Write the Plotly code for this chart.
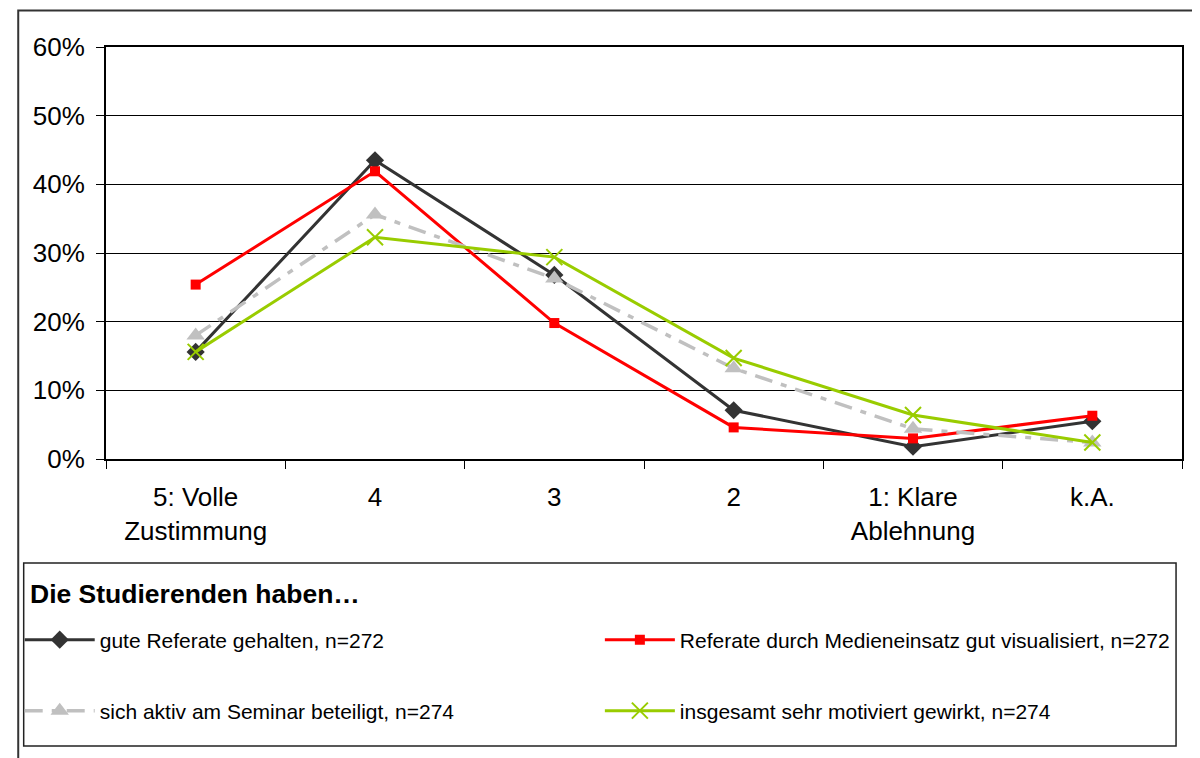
"""Liniendiagramm: Bewertung der Studierenden (Anteile je Antwortkategorie)."""

import plotly.graph_objects as go

# Antwortkategorien (x-Achse)
kategorien = ["5: Volle<br>Zustimmung", "4", "3", "2", "1: Klare<br>Ablehnung", "k.A."]

# Anteile je Item
gute_referate = [0.156, 0.435, 0.268, 0.071, 0.018, 0.055]
medieneinsatz = [0.254, 0.419, 0.198, 0.046, 0.030, 0.063]
aktiv_beteiligt = [0.180, 0.356, 0.263, 0.132, 0.044, 0.024]
motiviert = [0.156, 0.323, 0.294, 0.147, 0.064, 0.024]

namen = [
    "gute Referate gehalten, n=272",
    "Referate durch Medieneinsatz gut visualisiert, n=272",
    "sich aktiv am Seminar beteiligt, n=274",
    "insgesamt sehr motiviert gewirkt, n=274",
]
legenden_titel = "Die Studierenden haben…"

y_ticks = [0, 0.1, 0.2, 0.3, 0.4, 0.5, 0.6]

FONT = "Liberation Sans, Arial, sans-serif"

# Seite hat 8px Rand im Browser -> Vorlagen-Pixel um 8 verschieben
OFF = 8
W, H = 1200 - OFF, 758 - OFF
L, R, T, B = 97 - OFF, 1182 - OFF, 47 - OFF, 459 - OFF


def px_x(x):
    return (x - OFF - L) / (R - L)


def px_y(y):
    return (B - (y - OFF)) / (B - T)


fig = go.Figure()

fig.add_trace(go.Scatter(
    x=kategorien, y=gute_referate, name=namen[0], mode="lines+markers",
    line=dict(color="#333333", width=3),
    marker=dict(symbol="diamond", size=14, color="#333333"),
    legend="legend",
))
fig.add_trace(go.Scatter(
    x=kategorien, y=medieneinsatz, name=namen[1], mode="lines+markers",
    line=dict(color="#FF0000", width=3),
    marker=dict(symbol="square", size=10, color="#FF0000"),
    legend="legend2",
))
fig.add_trace(go.Scatter(
    x=kategorien, y=aktiv_beteiligt, name=namen[2], mode="lines+markers",
    line=dict(color="#C0C0C0", width=3.5, dash="18px,9px,6px,9px"),
    marker=dict(symbol="triangle-up", size=16, color="#C0C0C0"),
    legend="legend3",
))
fig.add_trace(go.Scatter(
    x=kategorien, y=motiviert, name=namen[3], mode="lines+markers",
    line=dict(color="#99CC00", width=3),
    marker=dict(symbol="x-thin", size=16, color="#99CC00",
                line=dict(color="#99CC00", width=2)),
    legend="legend4",
))

legend_base = dict(
    xanchor="left", yanchor="middle", bgcolor="rgba(0,0,0,0)",
    borderwidth=0, font=dict(family=FONT, size=21, color="#000000"),
    itemwidth=70,
)
row1, row2 = px_y(640), px_y(711)
col1, col2 = px_x(10), px_x(595)

# Rahmen um das ganze Diagramm und um die Legende
shapes = [
    dict(type="rect", xref="paper", yref="paper",
         x0=px_x(8.5), x1=px_x(1197), y0=px_y(762), y1=px_y(10.5),
         line=dict(color="#333333", width=2), fillcolor="rgba(0,0,0,0)", layer="below"),
    dict(type="rect", xref="paper", yref="paper",
         x0=px_x(14), x1=px_x(1176), y0=px_y(746), y1=px_y(563),
         line=dict(color="#222222", width=1.5), fillcolor="rgba(0,0,0,0)", layer="below"),
]

fig.update_layout(
    width=W, height=H,
    margin=dict(l=L, r=W - R, t=T, b=H - B),
    paper_bgcolor="white", plot_bgcolor="white",
    font=dict(family=FONT, size=26, color="#000000"),
    showlegend=True,
    legend=dict(legend_base, x=col1, y=row1),
    legend2=dict(legend_base, x=col2, y=row1),
    legend3=dict(legend_base, x=col1, y=row2),
    legend4=dict(legend_base, x=col2, y=row2),
    shapes=shapes,
    annotations=[dict(
        text=f"<b>{legenden_titel}</b>", xref="paper", yref="paper",
        x=px_x(18), y=px_y(594), xanchor="left", yanchor="middle",
        showarrow=False, font=dict(family=FONT, size=26.5, color="#000000"),
    )],
)

fig.update_xaxes(
    type="category", range=[-0.5, len(kategorien) - 0.5],
    showgrid=False, showline=True, linecolor="#000000", linewidth=2,
    mirror=True, ticks="outside", tickson="boundaries", ticklen=8, tickcolor="#000000",
    tickfont=dict(family=FONT, size=26), ticklabelstandoff=14,
)
fig.update_yaxes(
    range=[0, 0.6], tickvals=y_ticks, tickformat=".0%",
    showgrid=True, gridcolor="#000000", gridwidth=1,
    showline=True, linecolor="#000000", linewidth=2, mirror=True,
    ticks="outside", ticklen=8, tickcolor="#000000", ticklabelstandoff=6,
    tickfont=dict(family=FONT, size=26), zeroline=False,
)

fig.write_html("out.html")
